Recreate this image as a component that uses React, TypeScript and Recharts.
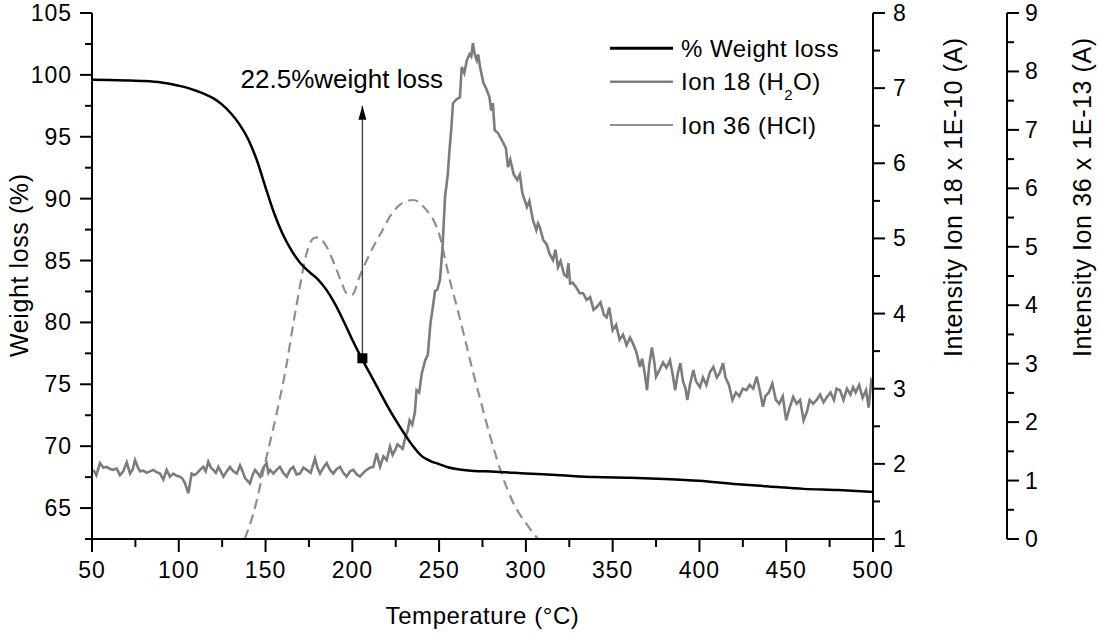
import React from 'react';
import { ComposedChart, Line, XAxis, YAxis, Legend, ReferenceLine, ReferenceDot } from 'recharts';

const FONT = "'Liberation Sans', Arial, Helvetica, sans-serif";

// ---------- axis ticks ----------
const xTicks = [50, 75, 100, 125, 150, 175, 200, 225, 250, 275, 300, 325, 350, 375, 400, 425, 450, 475, 500];
const weightTicks = [62.5, 65, 67.5, 70, 72.5, 75, 77.5, 80, 82.5, 85, 87.5, 90, 92.5, 95, 97.5, 100, 102.5, 105];
const ion18Ticks = [1, 1.5, 2, 2.5, 3, 3.5, 4, 4.5, 5, 5.5, 6, 6.5, 7, 7.5, 8];
const ion36Ticks = [0, 0.5, 1, 1.5, 2, 2.5, 3, 3.5, 4, 4.5, 5, 5.5, 6, 6.5, 7, 7.5, 8, 8.5, 9];

// ---------- % weight loss (left axis) ----------
const weightTemps = [50, 60, 70, 80, 90, 100, 105, 110, 115, 120, 125, 130, 135, 140, 145, 150, 155, 160, 165, 170, 175, 180, 185, 190, 195, 200, 205, 210, 215, 220, 225, 230, 235, 240, 245, 250, 255, 260, 270, 280, 300, 320, 340, 360, 380, 400, 420, 440, 460, 480, 500];
const weightValues = [99.6, 99.58, 99.55, 99.5, 99.38, 99.12, 98.95, 98.72, 98.45, 98.1, 97.6, 96.9, 96.0, 94.8, 93.1, 90.9, 88.8, 87.1, 85.8, 84.8, 84.1, 83.5, 82.65, 81.5, 80.1, 78.6, 77.2, 75.9, 74.6, 73.3, 72.1, 71.0, 70.0, 69.2, 68.8, 68.55, 68.3, 68.15, 68.0, 67.95, 67.8, 67.65, 67.5, 67.45, 67.35, 67.2, 66.95, 66.75, 66.55, 66.45, 66.3];

// ---------- Ion 18 (H2O), right axis 1 ----------
const ion18Temps = [50.8, 52.5, 54.6, 56.5, 58.5, 60.4, 62.3, 64.2, 66.1, 68.0, 70.0, 71.9, 73.5, 74.8, 76.5, 77.7, 79.6, 81.5, 83.4, 85.3, 87.2, 89.2, 91.1, 93.0, 94.9, 96.9, 98.8, 100.7, 102.2, 103.6, 105.5, 107.4, 109.0, 110.3, 112.2, 114.1, 115.5, 117.0, 118.5, 119.9, 121.4, 122.8, 124.2, 125.7, 127.6, 129.5, 131.4, 133.4, 135.3, 136.8, 138.2, 141.0, 142.5, 143.9, 145.3, 146.8, 148.7, 150.6, 151.6, 152.6, 154.5, 156.4, 158.3, 160.2, 162.2, 164.1, 166.0, 167.9, 169.8, 171.8, 173.7, 176.0, 178.5, 180.0, 181.4, 183.3, 185.2, 187.1, 189.0, 190.9, 192.9, 194.8, 196.7, 198.7, 200.6, 202.5, 204.4, 206.3, 208.3, 210.2, 212.1, 214.0, 216.0, 217.9, 219.8, 221.7, 223.2, 224.6, 226.0, 227.5, 229.0, 230.5, 232.0, 233.0, 234.5, 236.0, 237.0, 238.5, 240.0, 242.0, 243.5, 245.0, 246.5, 247.6, 249.0, 250.5, 252.0, 253.4, 255.0, 256.0, 257.0, 258.0, 260.0, 262.0, 263.0, 264.5, 266.0, 267.5, 268.5, 269.5, 270.5, 271.7, 272.5, 273.6, 275.5, 277.0, 279.0, 280.0, 281.0, 282.0, 284.0, 287.0, 288.5, 289.7, 291.0, 293.0, 295.0, 296.5, 298.0, 300.6, 302.0, 304.0, 306.0, 307.0, 308.0, 310.0, 312.0, 313.5, 315.6, 317.0, 318.5, 320.0, 322.0, 323.5, 324.5, 325.5, 327.0, 329.0, 331.0, 333.0, 335.0, 337.0, 339.0, 341.0, 343.0, 345.0, 346.5, 348.0, 350.0, 352.0, 354.0, 356.0, 358.0, 360.0, 361.7, 363.5, 365.7, 367.0, 368.5, 369.8, 371.0, 372.6, 374.0, 375.0, 377.0, 379.0, 381.0, 383.0, 384.5, 386.0, 387.5, 389.0, 390.5, 392.0, 393.0, 394.5, 396.5, 398.0, 400.3, 402.0, 404.0, 406.0, 408.0, 410.0, 411.5, 413.6, 415.0, 417.0, 419.0, 421.0, 423.0, 425.0, 427.0, 429.0, 431.0, 433.0, 435.0, 436.6, 438.0, 440.0, 442.0, 444.0, 446.0, 448.0, 450.0, 452.0, 454.0, 456.0, 458.0, 460.0, 462.0, 463.5, 465.5, 467.5, 469.5, 471.5, 473.5, 475.5, 477.5, 479.0, 481.0, 483.0, 485.0, 487.0, 488.5, 490.0, 492.0, 494.0, 496.0, 497.5, 499.0, 500.0];
const ion18Values = [1.92, 1.85, 2.01, 1.95, 1.96, 1.93, 1.92, 1.94, 1.85, 1.90, 2.02, 1.87, 1.93, 2.05, 1.95, 1.90, 1.91, 1.88, 1.90, 1.92, 1.89, 1.87, 1.79, 1.92, 1.83, 1.87, 1.84, 1.83, 1.80, 1.74, 1.61, 1.87, 1.85, 1.87, 1.92, 1.96, 1.90, 2.03, 1.95, 1.92, 1.88, 1.96, 1.90, 1.83, 1.90, 1.96, 1.90, 1.87, 1.98, 1.90, 1.81, 1.74, 1.85, 1.92, 1.88, 1.83, 1.95, 2.01, 1.88, 1.92, 1.87, 1.92, 1.96, 1.88, 1.83, 1.92, 1.96, 1.86, 1.87, 1.95, 1.92, 1.88, 2.07, 1.94, 1.87, 1.95, 2.01, 1.92, 1.87, 1.93, 1.96, 1.88, 1.83, 1.90, 1.92, 1.86, 1.83, 1.88, 1.92, 1.95, 1.96, 2.14, 1.96, 2.10, 2.05, 2.23, 2.12, 2.18, 2.26, 2.23, 2.20, 2.35, 2.45, 2.58, 2.52, 2.68, 2.98, 2.95, 3.20, 3.38, 3.45, 3.87, 4.10, 4.30, 4.32, 4.45, 4.89, 5.55, 5.85, 6.18, 6.45, 6.80, 6.85, 6.88, 7.28, 7.20, 7.37, 7.45, 7.42, 7.60, 7.45, 7.37, 7.45, 7.28, 7.07, 7.00, 6.88, 6.70, 6.80, 6.44, 6.40, 6.27, 6.20, 5.95, 6.05, 5.85, 5.78, 5.85, 5.60, 5.42, 5.50, 5.25, 5.11, 5.20, 5.15, 4.98, 4.92, 4.80, 4.71, 4.85, 4.62, 4.70, 4.52, 4.49, 4.67, 4.40, 4.41, 4.35, 4.27, 4.27, 4.18, 4.22, 4.05, 4.09, 4.15, 3.98, 3.95, 4.08, 3.78, 3.85, 3.65, 3.72, 3.58, 3.68, 3.60, 3.50, 3.29, 3.40, 3.20, 2.98, 3.30, 3.55, 3.35, 3.16, 3.25, 3.35, 3.28, 3.38, 3.20, 2.98, 3.20, 3.34, 3.10, 3.00, 2.85, 3.05, 3.25, 3.10, 3.02, 3.15, 3.05, 3.22, 3.29, 3.15, 3.20, 3.34, 3.15, 3.05, 2.85, 2.95, 2.90, 3.00, 2.98, 3.05, 3.00, 3.16, 2.95, 2.76, 2.90, 2.95, 3.07, 2.85, 2.80, 2.90, 2.58, 2.75, 2.89, 2.80, 2.85, 2.58, 2.70, 2.85, 2.80, 2.85, 2.92, 2.82, 2.89, 2.95, 2.85, 3.00, 2.98, 2.85, 3.00, 2.92, 3.02, 2.95, 3.05, 2.88, 2.98, 2.75, 3.10, 3.05];

// ---------- Ion 36 (HCl), right axis 2 ----------
const ion36Temps = [138, 143, 150.6, 156.4, 162.2, 166, 169.8, 172.5, 175.6, 178, 180.4, 183, 185.2, 188, 191, 194, 196.8, 199.6, 201.5, 203.4, 206, 208.3, 213, 217.7, 221.7, 227.5, 231, 235.1, 238, 240.9, 244, 246.7, 250.5, 254.4, 257, 260, 263, 265.9, 269.5, 273.6, 279, 286, 292.7, 300.5, 307];
const ion36Values = [0, 0.44, 1.41, 2.15, 3.0, 3.69, 4.32, 4.75, 5.06, 5.15, 5.16, 5.1, 5.0, 4.82, 4.6, 4.37, 4.2, 4.17, 4.25, 4.43, 4.62, 4.77, 5.05, 5.3, 5.52, 5.72, 5.78, 5.8, 5.77, 5.69, 5.58, 5.46, 5.17, 4.66, 4.33, 4.0, 3.65, 3.3, 2.86, 2.4, 1.8, 1.12, 0.62, 0.25, 0];

// ---------- annotation ----------
const markerTemp = 205.8;
const markerWeight = 77.1;
const arrowTipWeight = 97.5;
const annotationText = '22.5%weight loss';
const annotationTemp = 193.9;
const annotationWeight = 99.72;

const weightData = weightTemps.map((t, i) => ({ t, v: weightValues[i] }));
const ion18Data = ion18Temps.map((t, i) => ({ t, v: ion18Values[i] }));
const ion36Data = ion36Temps.map((t, i) => ({ t, v: ion36Values[i] }));

const TICK_FS = 23;

const BottomTick = (props: any) => {
  const { x, y, payload } = props;
  const v = payload.value;
  const major = v % 50 === 0;
  return (
    <g>
      <line x1={x} x2={x} y1={y} y2={y + (major ? 13 : 8)} stroke="#000" strokeWidth={2} />
      {major && (
        <text x={x} y={y + 39} textAnchor="middle" fontFamily={FONT} fontSize={TICK_FS} fill="#000" letterSpacing={1}>
          {v}
        </text>
      )}
    </g>
  );
};

const TopTick = (props: any) => {
  const { x, y, payload } = props;
  const major = payload.value % 50 === 0;
  return <line x1={x} x2={x} y1={y} y2={y + (major ? 12 : 7)} stroke="#000" strokeWidth={2} />;
};

const LeftTick = (props: any) => {
  const { x, y, payload } = props;
  const v = payload.value;
  const major = v % 5 === 0;
  return (
    <g>
      <line x1={x - (major ? 12 : 7)} x2={x} y1={y} y2={y} stroke="#000" strokeWidth={2} />
      {major && (
        <text x={x - 20} y={y + 8} textAnchor="end" fontFamily={FONT} fontSize={TICK_FS} fill="#000" letterSpacing={1}>
          {v}
        </text>
      )}
    </g>
  );
};

const makeRightTick = (gap: number) => (props: any) => {
  const { x, y, payload } = props;
  const v = payload.value;
  const major = Number.isInteger(v);
  return (
    <g>
      <line x1={x} x2={x + (major ? 12 : 7)} y1={y} y2={y} stroke="#000" strokeWidth={2} />
      {major && (
        <text x={x + gap} y={y + 8} textAnchor="start" fontFamily={FONT} fontSize={TICK_FS} fill="#000">
          {v}
        </text>
      )}
    </g>
  );
};
const Ion18Tick = makeRightTick(20);
const Ion36Tick = makeRightTick(18);

const vTitle = (x: number, y: number, text: string) => () => (
  <text
    x={x}
    y={y}
    transform={`rotate(-90 ${x} ${y})`}
    textAnchor="start"
    fontFamily={FONT}
    fontSize={25}
    letterSpacing={0.6}
    fill="#000"
  >
    {text}
  </text>
);

const xTitle = () => (
  <text x={482.5} y={623.5} textAnchor="middle" fontFamily={FONT} fontSize={24} letterSpacing={0.6} fill="#000">
    Temperature (°C)
  </text>
);

const renderLegend = () => (
  <svg width={280} height={125} style={{ display: 'block', overflow: 'visible' }}>
    <line x1={10} x2={73} y1={28.3} y2={28.3} stroke="#000" strokeWidth={3} />
    <text x={81} y={28.3 + 8.5} fontFamily={FONT} fontSize={24} fill="#000" letterSpacing={0.5}>
      % Weight loss
    </text>
    <line x1={10} x2={73} y1={61.7} y2={61.7} stroke="#808080" strokeWidth={2.6} />
    <text x={81} y={61.7 + 8.5} fontFamily={FONT} fontSize={24} fill="#000" letterSpacing={0.5}>
      Ion 18 (H
      <tspan fontSize={15} dy={10}>2</tspan>
      <tspan dy={-10}>O)</tspan>
    </text>
    <line x1={10} x2={73} y1={105} y2={105} stroke="#8f8f8f" strokeWidth={2} />
    <text x={81} y={105 + 8.5} fontFamily={FONT} fontSize={24} fill="#000" letterSpacing={0.5}>
      Ion 36 (HCl)
    </text>
  </svg>
);

const SquareMarker = (props: any) => {
  const { cx, cy } = props;
  return <rect x={cx - 5} y={cy - 5} width={10} height={10} fill="#000" />;
};

const ArrowHead = (props: any) => {
  const { cx, cy } = props;
  return <polygon points={`${cx},${cy} ${cx - 4},${cy + 14} ${cx + 4},${cy + 14}`} fill="#000" />;
};

export default function App() {
  return (
    <div style={{ position: 'absolute', left: 0, top: 0, width: 1099, height: 634, background: '#fff' }}>
      <ComposedChart width={1099} height={634} margin={{ top: 13, right: 0, bottom: 0, left: 0 }}>
        <XAxis
          xAxisId="bottom"
          type="number"
          dataKey="t"
          domain={[50, 500]}
          ticks={xTicks}
          interval={0}
          height={95}
          tickSize={0}
          tickMargin={0}
          tickLine={false}
          tick={BottomTick}
          axisLine={{ stroke: '#000', strokeWidth: 2 }}
          allowDataOverflow
          label={{ content: xTitle }}
        />
        <XAxis
          xAxisId="top"
          orientation="top"
          type="number"
          dataKey="t"
          domain={[50, 500]}
          ticks={xTicks}
          interval={0}
          height={0}
          tickSize={0}
          tickMargin={0}
          tickLine={false}
          tick={TopTick}
          axisLine={{ stroke: '#000', strokeWidth: 2 }}
          allowDataOverflow
        />
        <YAxis
          yAxisId="left"
          orientation="left"
          type="number"
          domain={[62.5, 105]}
          ticks={weightTicks}
          interval={0}
          width={92}
          tickSize={0}
          tickMargin={0}
          tickLine={false}
          tick={LeftTick}
          axisLine={{ stroke: '#000', strokeWidth: 2 }}
          allowDataOverflow
          label={{ content: vTitle(28, 357, 'Weight loss (%)') }}
        />
        <YAxis
          yAxisId="ion18"
          orientation="right"
          type="number"
          domain={[1, 8]}
          ticks={ion18Ticks}
          interval={0}
          width={134}
          tickSize={0}
          tickMargin={0}
          tickLine={false}
          tick={Ion18Tick}
          axisLine={{ stroke: '#000', strokeWidth: 2 }}
          allowDataOverflow
          label={{ content: vTitle(961.5, 357, 'Intensity Ion 18 x 1E-10 (A)') }}
        />
        <YAxis
          yAxisId="ion36"
          orientation="right"
          type="number"
          domain={[0, 9]}
          ticks={ion36Ticks}
          interval={0}
          width={92}
          tickSize={0}
          tickMargin={0}
          tickLine={false}
          tick={Ion36Tick}
          axisLine={{ stroke: '#000', strokeWidth: 2 }}
          allowDataOverflow
          label={{ content: vTitle(1090.5, 357, 'Intensity Ion 36 x 1E-13 (A)') }}
        />
        <Legend
          layout="vertical"
          align="center"
          verticalAlign="middle"
          content={renderLegend}
          wrapperStyle={{ left: 600, top: 20, width: 280, height: 125 }}
        />
        <Line
          data={ion36Data}
          xAxisId="bottom"
          yAxisId="ion36"
          dataKey="v"
          type="monotone"
          stroke="#8f8f8f"
          strokeWidth={2.2}
          strokeDasharray="10 6"
          dot={false}
          activeDot={false}
          isAnimationActive={false}
        />
        <Line
          data={ion18Data}
          xAxisId="bottom"
          yAxisId="ion18"
          dataKey="v"
          type="linear"
          stroke="#7c7c7c"
          strokeWidth={2.6}
          dot={false}
          activeDot={false}
          isAnimationActive={false}
        />
        <Line
          data={weightData}
          xAxisId="bottom"
          yAxisId="left"
          dataKey="v"
          type="monotone"
          stroke="#000"
          strokeWidth={2.5}
          dot={false}
          activeDot={false}
          isAnimationActive={false}
        />
        <ReferenceLine
          xAxisId="bottom"
          yAxisId="left"
          segment={[{ x: markerTemp, y: markerWeight }, { x: markerTemp, y: arrowTipWeight }]}
          stroke="#444"
          strokeWidth={1.4}
        />
        <ReferenceDot xAxisId="bottom" yAxisId="left" x={markerTemp} y={arrowTipWeight} r={4} shape={ArrowHead} />
        <ReferenceDot xAxisId="bottom" yAxisId="left" x={markerTemp} y={markerWeight} r={5} shape={SquareMarker} />
        <ReferenceDot
          xAxisId="bottom"
          yAxisId="left"
          x={annotationTemp}
          y={annotationWeight}
          r={0}
          fill="none"
          stroke="none"
          label={{ value: annotationText, position: 'center', fontFamily: FONT, fontSize: 26, fill: '#000' }}
        />
      </ComposedChart>
    </div>
  );
}
